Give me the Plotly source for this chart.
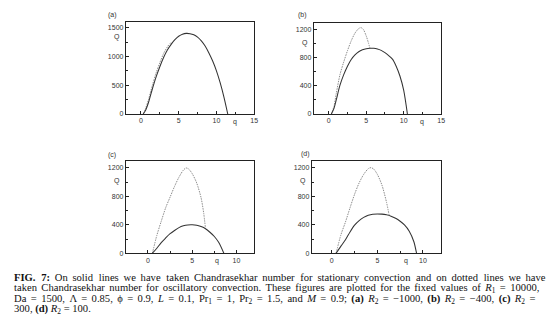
import plotly.graph_objects as go

# ---------------- data ----------------
# panel (a)  R2 = -1000
a_sol_q = [0.3, 0.6, 1.0, 1.5, 2.0, 2.5, 3.0, 3.5, 4.0, 4.5, 5.0, 5.5, 6.0, 6.5, 7.0, 7.5, 8.0, 8.5, 9.0, 9.5, 10.0, 10.5, 11.0, 11.5]
a_sol_Q = [0, 60, 200, 430, 640, 820, 980, 1110, 1210, 1290, 1350, 1385, 1400, 1395, 1375, 1335, 1270, 1180, 1060, 920, 750, 540, 290, 0]
a_dot_q = [0.3, 0.6, 1.0, 1.5, 2.0, 2.5, 3.0, 3.5, 3.9, 4.1]
a_dot_Q = [0, 90, 250, 490, 710, 890, 1050, 1165, 1230, 1228]

# panel (b)  R2 = -400
b_sol_q = [0.35, 0.7, 1.0, 1.5, 2.0, 2.5, 3.0, 3.5, 4.0, 4.5, 5.0, 5.5, 6.0, 6.5, 7.0, 7.5, 8.0, 8.5, 9.0, 9.5, 10.0, 10.5]
b_sol_Q = [0, 80, 200, 410, 560, 680, 775, 840, 885, 912, 928, 935, 935, 925, 905, 872, 830, 780, 680, 540, 340, 0]
b_dot_q = [0.35, 0.7, 1.0, 1.5, 2.0, 2.5, 3.0, 3.5, 4.0, 4.3, 4.6, 5.0, 5.3, 5.5]
b_dot_Q = [0, 110, 290, 560, 740, 900, 1040, 1150, 1215, 1228, 1205, 1110, 1010, 935]

# panel (c)  R2 = 300
c_sol_q = [0.5, 1.0, 1.5, 2.0, 2.5, 3.0, 3.5, 4.0, 4.5, 5.0, 5.5, 6.0, 6.5, 7.0, 7.5, 8.0, 8.57]
c_sol_Q = [0, 70, 150, 215, 275, 320, 360, 385, 398, 400, 395, 375, 345, 295, 235, 150, 0]
c_dot_q = [0.5, 1.0, 1.5, 2.0, 2.5, 3.0, 3.5, 4.0, 4.3, 4.6, 5.0, 5.5, 6.0, 6.3, 6.5]
c_dot_Q = [0, 250, 450, 640, 790, 940, 1070, 1170, 1200, 1185, 1120, 990, 780, 560, 345]

# panel (d)  R2 = 100
d_sol_q = [0.47, 1.0, 1.5, 2.0, 2.5, 3.0, 3.5, 4.0, 4.5, 5.0, 5.5, 6.0, 6.5, 7.0, 7.5, 8.0, 8.5, 9.0, 9.3]
d_sol_Q = [0, 100, 190, 300, 395, 460, 505, 535, 550, 553, 550, 540, 522, 492, 450, 395, 310, 165, 0]
d_dot_q = [0.47, 1.0, 1.5, 2.0, 2.5, 3.0, 3.5, 4.0, 4.3, 4.6, 5.0, 5.5, 6.0, 6.3]
d_dot_Q = [0, 260, 440, 640, 830, 990, 1110, 1190, 1205, 1185, 1110, 960, 720, 530]

panel_labels = ["(a)", "(b)", "(c)", "(d)"]
x_ranges = [[-2, 15], [-2, 15], [-2.5, 12], [-2.2, 12]]
y_ranges = [[0, 1600], [0, 1300], [0, 1300], [0, 1300]]
x_ticks = [[0, 5, 10, 15], [0, 5, 10, 15], [0, 5, 10], [0, 5, 10]]
y_ticks = [[0, 500, 1000, 1500], [0, 400, 800, 1200], [0, 400, 800, 1200], [0, 400, 800, 1200]]
q_label_pos = [12.5, 12.5, 7.8, 8.1]
Q_label_pos = [1330, 1015, 1020, 1020]

caption_lines = [
    "<b>FIG. 7:</b> On solid lines we have taken Chandrasekhar number for stationary convection and on dotted lines we have",
    "taken Chandrasekhar number for oscillatory convection. These figures are plotted for the fixed values of <i>R</i><sub>1</sub> = 10000,",
    "Da = 1500, Λ = 0.85, ϕ = 0.9, <i>L</i> = 0.1, Pr<sub>1</sub> = 1, Pr<sub>2</sub> = 1.5, and <i>M</i> = 0.9; <b>(a)</b> <i>R</i><sub>2</sub> = −1000, <b>(b)</b> <i>R</i><sub>2</sub> = −400, <b>(c)</b> <i>R</i><sub>2</sub> =",
    "300, <b>(d)</b> <i>R</i><sub>2</sub> = 100.",
]
# extra spacing (cycled over the inter-word gaps) to imitate the justified caption
caption_gap_fill = [["\u2009\u200a", "\u2009", "\u2009"], ["\u2006"], ["\u2006"], [""]]

# ---------------- layout geometry ----------------
OFF = 8  # page body margin of the browser
W, H = 558 - OFF, 333 - OFF
x_doms = [[126.7, 256], [316, 444.3], [126.7, 256], [314, 444.3]]
y_doms = [[22, 115], [22.7, 115], [162.3, 255.5], [162.3, 255.5]]
label_pos = [(107, 15), (298, 15), (107, 156.5), (301, 155)]
caption_x = 12
caption_y = [280, 291, 302, 312.7]


def px_x(v):
    return (v - OFF) / W


def px_y(v):
    return 1 - (v - OFF) / H


def spread(line, fills):
    out = []
    in_tag = False
    g = 0
    for ch in line:
        if ch == "<":
            in_tag = True
        elif ch == ">":
            in_tag = False
        if ch == " " and not in_tag:
            out.append(" " + fills[g % len(fills)])
            g += 1
        else:
            out.append(ch)
    return "".join(out)


series = [
    (a_sol_q, a_sol_Q, a_dot_q, a_dot_Q),
    (b_sol_q, b_sol_Q, b_dot_q, b_dot_Q),
    (c_sol_q, c_sol_Q, c_dot_q, c_dot_Q),
    (d_sol_q, d_sol_Q, d_dot_q, d_dot_Q),
]

fig = go.Figure()
tick_font = dict(family="Liberation Sans, Arial, sans-serif", size=7, color="#333")
annotations = []
layout_axes = {}

for i in range(4):
    n = "" if i == 0 else str(i + 1)
    xa, ya = "x" + n, "y" + n
    sq, sQ, dq, dQ = series[i]
    fig.add_trace(go.Scatter(x=dq, y=dQ, xaxis=xa, yaxis=ya, mode="lines",
                             line=dict(color="#8c8c8c", width=1.0, dash="1.5px,1px", shape="spline", smoothing=0.8),
                             showlegend=False, hoverinfo="skip"))
    fig.add_trace(go.Scatter(x=sq, y=sQ, xaxis=xa, yaxis=ya, mode="lines",
                             line=dict(color="#333333", width=1.05, shape="spline", smoothing=0.8),
                             showlegend=False, hoverinfo="skip"))
    xd = [px_x(x_doms[i][0]), px_x(x_doms[i][1])]
    yd = [px_y(y_doms[i][1]), px_y(y_doms[i][0])]
    xstep = x_ticks[i][1] - x_ticks[i][0]
    ystep = y_ticks[i][1] - y_ticks[i][0]
    layout_axes["xaxis" + n] = dict(
        domain=xd, range=x_ranges[i], anchor=ya, showgrid=False, zeroline=False,
        showline=True, linecolor="#222", linewidth=1, mirror=True,
        tickmode="array", tickvals=x_ticks[i], ticktext=[str(v) for v in x_ticks[i]],
        ticks="inside", ticklen=3, tickcolor="#222", tickwidth=1, tickfont=tick_font,
        minor=dict(dtick=xstep / 2, tick0=0, ticks="inside", ticklen=2, tickcolor="#222", showgrid=False),
    )
    layout_axes["yaxis" + n] = dict(
        domain=yd, range=y_ranges[i], anchor=xa, showgrid=False, zeroline=False,
        showline=True, linecolor="#222", linewidth=1, mirror=True,
        tickmode="array", tickvals=y_ticks[i], ticktext=[str(v) for v in y_ticks[i]],
        ticks="inside", ticklen=3, tickcolor="#222", tickwidth=1, tickfont=tick_font,
        minor=dict(dtick=ystep / 2, tick0=0, ticks="inside", ticklen=2, tickcolor="#222", showgrid=False),
    )
    annotations.append(dict(x=q_label_pos[i], xref=xa, y=0, yref=ya + " domain", text="q",
                            showarrow=False, yanchor="top", yshift=-2, font=tick_font))
    annotations.append(dict(x=0, xref=xa + " domain", y=Q_label_pos[i], yref=ya, text="Q",
                            showarrow=False, xanchor="right", xshift=-4, font=tick_font))
    lx, ly = label_pos[i]
    annotations.append(dict(x=px_x(lx), y=px_y(ly), xref="paper", yref="paper", text=panel_labels[i],
                            showarrow=False, xanchor="left", yanchor="middle", font=tick_font))

for k, line in enumerate(caption_lines):
    annotations.append(dict(x=px_x(caption_x), y=px_y(caption_y[k]), xref="paper", yref="paper",
                            text=spread(line, caption_gap_fill[k]),
                            showarrow=False, xanchor="left", yanchor="middle", align="left",
                            font=dict(family="Liberation Serif, Times New Roman, serif", size=10.6, color="#111")))

fig.update_layout(width=W, height=H, margin=dict(l=0, r=0, t=0, b=0),
                  paper_bgcolor="white", plot_bgcolor="white",
                  annotations=annotations, **layout_axes)

fig.write_html("out.html")
